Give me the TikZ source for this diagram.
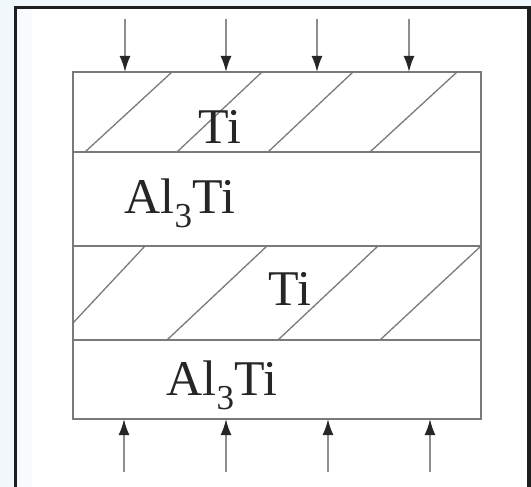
\documentclass[tikz,border=0pt]{standalone}
\usepackage{fontspec}
\setmainfont{Liberation Serif}
\usetikzlibrary{arrows.meta}
\definecolor{nen}{HTML}{F1F8FC}
\definecolor{vien}{HTML}{1E1E1E}
\definecolor{net}{HTML}{7A7A7A}
\definecolor{chu}{HTML}{262626}
\tikzset{
  lop/.style={draw=net, line width=1.8pt},
  gach/.style={draw=net, line width=1.3pt},
  muiten/.style={draw=net!85, line width=1.8pt, -{Latex[length=16pt,width=11pt,color=chu]}},
  nhan/.style={text=chu, font=\fontsize{50}{60}\selectfont, inner sep=0pt, anchor=base}
}
\begin{document}
\begin{tikzpicture}[x=1pt, y=-1pt]
    % Nền và khung
    \fill[nen] (0,0) rectangle (531,487);
    \useasboundingbox (0,0) rectangle (531,487);
    \fill[white] (17,9.5) rectangle (527.5,487);
    \fill[nen!60] (17,9.5) rectangle (32,487);
    \draw[vien, line width=3.5pt] (15.3,487) -- (15.3,7.7) -- (529,7.7) -- (529,487);

    % Các lớp vật liệu
    \draw[lop] (73,72) rectangle (481,419);
    \foreach \y in {152,246,340}
        \draw[lop] (73,\y) -- (481,\y);

    % Gạch chéo lớp Ti
    \draw[gach] (85,152) -- (172,72) (177,152) -- (262,72)
        (268,152) -- (353,72) (370,152) -- (457,72);
    \draw[gach] (73,323) -- (145,246) (167,340) -- (267,246)
        (278,340) -- (378,246) (380,340) -- (481,246);

    % Nhãn
    \node[nhan] (ti1) at (220,143) {Ti};
    \node[nhan] (al1) at (180,213) {Al\textsubscript{3}Ti};
    \node[nhan] (ti2) at (290,305) {Ti};
    \node[nhan] (al2) at (222,395) {Al\textsubscript{3}Ti};

    % Mũi tên lực ép
    \foreach \x [count=\i] in {125,226,317,409} {
        \coordinate (tren\i) at (\x,19);
        \coordinate (mat\i) at (\x,72);
        \draw[muiten] (tren\i) -- (mat\i);
    }
    \foreach \x [count=\i] in {124,226,328,430} {
        \coordinate (duoi\i) at (\x,472);
        \coordinate (day\i) at (\x,419);
        \draw[muiten] (duoi\i) -- (day\i);
    }
\end{tikzpicture}
\end{document}
